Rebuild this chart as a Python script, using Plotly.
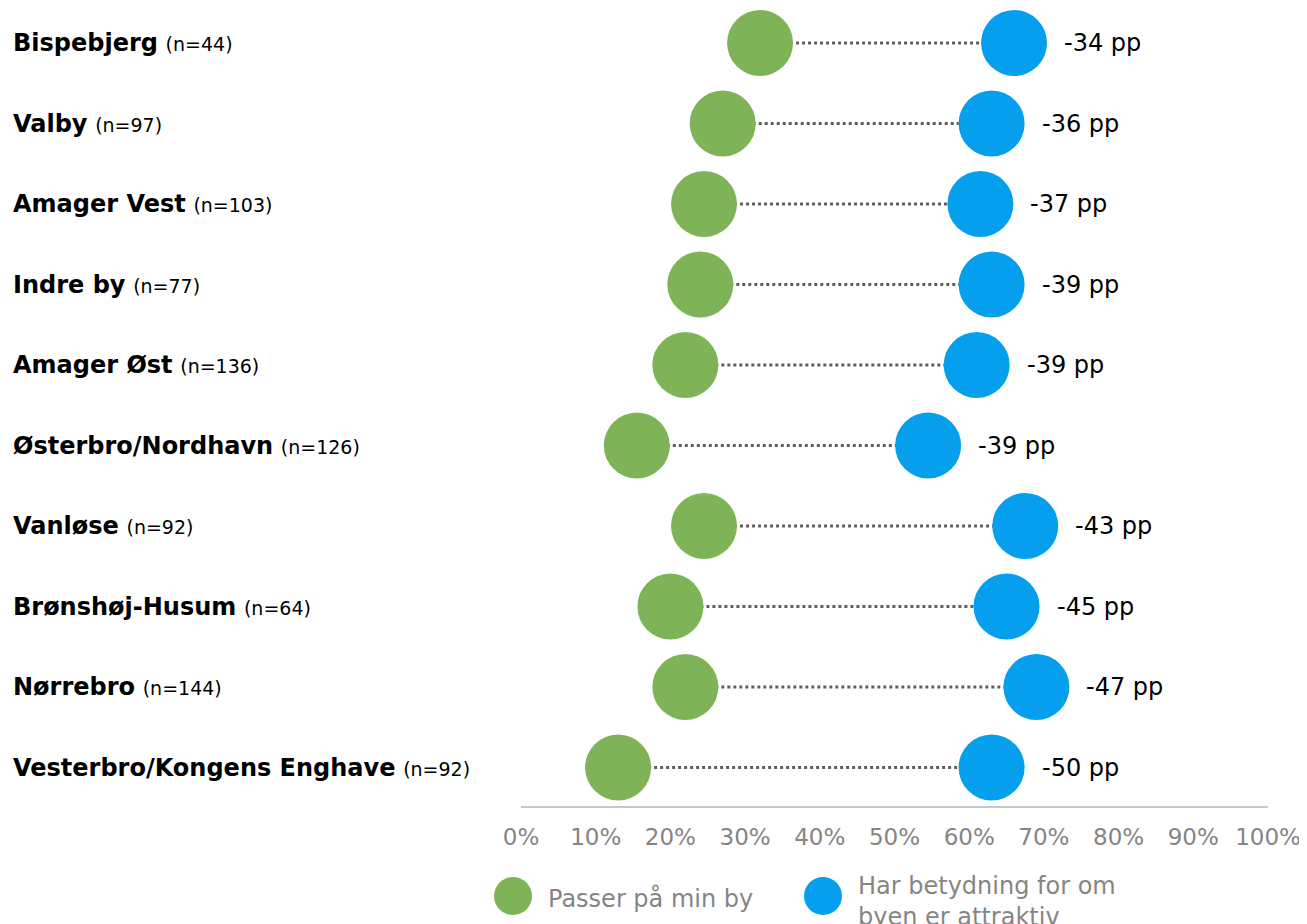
import plotly.graph_objects as go

areas = ["Bispebjerg", "Valby", "Amager Vest", "Indre by", "Amager Øst",
         "Østerbro/Nordhavn", "Vanløse", "Brønshøj-Husum", "Nørrebro",
         "Vesterbro/Kongens Enghave"]
n_counts = [44, 97, 103, 77, 136, 126, 92, 64, 144, 92]
passer = [32, 27, 24.5, 24, 22, 15.5, 24.5, 20, 22, 13]
betydning = [66, 63, 61.5, 63, 61, 54.5, 67.5, 65, 69, 63]
diff_labels = ["-34 pp", "-36 pp", "-37 pp", "-39 pp", "-39 pp", "-39 pp",
               "-43 pp", "-45 pp", "-47 pp", "-50 pp"]
tick_vals = [0, 10, 20, 30, 40, 50, 60, 70, 80, 90, 100]
tick_text = [f"{v}%" for v in tick_vals]
legend_names = ["Passer på min by", "Har betydning for om<br>byen er attraktiv"]

GREEN = "#7EB457"
BLUE = "#069FEE"
GRAY_TXT = "#858585"
FONT = "DejaVu Sans, Verdana, sans-serif"

# screen geometry of plot area (page has 8px body margin)
PX0, PX1 = 521, 1268
PY0, PY1 = 8, 806
PW, PH = PX1 - PX0, PY1 - PY0

def px(xs):
    return (xs - PX0) / PW

def py(ys):
    return (PY1 - ys) / PH

nrows = len(areas)
ypos = [nrows - 1 - i for i in range(nrows)]

fig = go.Figure()

lx, ly = [], []
for g, b, y in zip(passer, betydning, ypos):
    lx += [g, b, None]
    ly += [y, y, None]
fig.add_trace(go.Scatter(x=lx, y=ly, mode="lines",
                         line=dict(color="#5F5F5F", width=3, dash="dot"),
                         hoverinfo="skip", showlegend=False, cliponaxis=False))
fig.add_trace(go.Scatter(x=passer, y=ypos, mode="markers", name="Passer på min by",
                         marker=dict(size=66, color=GREEN), showlegend=False,
                         cliponaxis=False))
fig.add_trace(go.Scatter(x=betydning, y=ypos, mode="markers", name="Har betydning for om byen er attraktiv",
                         marker=dict(size=66, color=BLUE), showlegend=False,
                         cliponaxis=False))

annotations = []
for name, n, y in zip(areas, n_counts, ypos):
    annotations.append(dict(
        x=px(11), xref="paper", y=y, yref="y", xanchor="left", yanchor="middle",
        text=f"<b>{name}</b> <span style='font-size:19px'>(n={n})</span>",
        showarrow=False, font=dict(family=FONT, size=24, color="#000000")))
for b, y, lab in zip(betydning, ypos, diff_labels):
    annotations.append(dict(
        x=b, xref="x", y=y, yref="y", xanchor="left", yanchor="middle", xshift=48,
        text=lab, showarrow=False, font=dict(family=FONT, size=24, color="#000000")))

shapes = []
leg = [(513, 896, GREEN, legend_names[0], 546, 898),
       (823, 896, BLUE, legend_names[1], 856, 901)]
for cx, cy, col, txt, tx, ty in leg:
    shapes.append(dict(type="circle", xref="paper", yref="paper",
                       xsizemode="pixel", ysizemode="pixel",
                       xanchor=px(cx), yanchor=py(cy),
                       x0=-19, x1=19, y0=-19, y1=19,
                       fillcolor=col, line=dict(width=0)))
    annotations.append(dict(x=px(tx), xref="paper", y=py(ty), yref="paper",
                            xanchor="left", yanchor="middle", align="left", text=txt,
                            showarrow=False, font=dict(family=FONT, size=24, color=GRAY_TXT)))

row_px = 80.5
top_row_y = 43
y_top = (nrows - 1) + (top_row_y - PY0) / row_px
y_bot = y_top - PH / row_px

fig.update_layout(
    width=1299, height=916,
    margin=dict(l=PX0 - 8, r=1299 - (PX1 - 8), t=0, b=916 - (PY1 - 8)),
    paper_bgcolor="white", plot_bgcolor="white",
    xaxis=dict(range=[0, 100], tickvals=tick_vals, ticktext=tick_text,
               showgrid=False, zeroline=False, showline=True, linecolor="#C8C8C8", linewidth=2,
               ticks="outside", ticklen=9, tickcolor="rgba(0,0,0,0)",
               tickfont=dict(family=FONT, size=23, color=GRAY_TXT), fixedrange=True),
    yaxis=dict(range=[y_bot, y_top], showticklabels=False, showgrid=False,
               zeroline=False, showline=False, fixedrange=True),
    annotations=annotations, shapes=shapes, showlegend=False,
)

fig.write_html("out.html")
